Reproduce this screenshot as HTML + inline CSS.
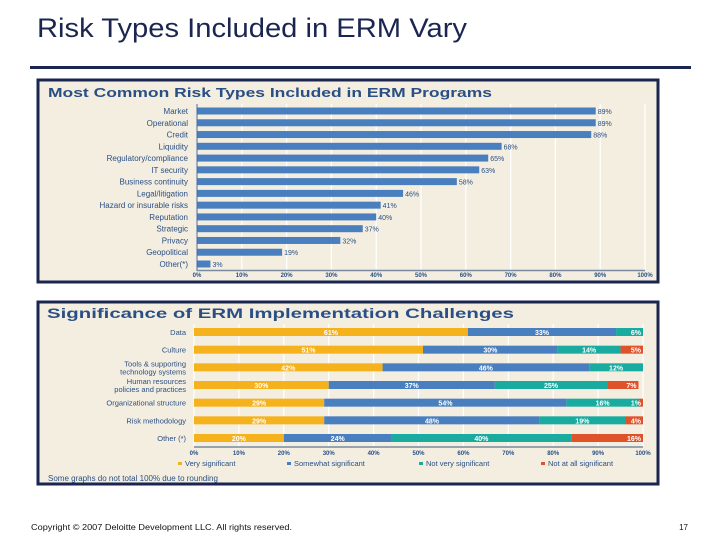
<!DOCTYPE html>
<html><head><meta charset="utf-8"><style>
html,body{margin:0;padding:0;background:#fff;}
svg{display:block;font-family:"Liberation Sans",sans-serif;}
</style></head><body>
<svg id="s" width="720" height="540" viewBox="0 0 720 540">
<text x="37" y="37" font-size="27" fill="#1a2550" textLength="430" lengthAdjust="spacingAndGlyphs">Risk Types Included in ERM Vary</text>
<rect x="30" y="66" width="661" height="3" fill="#1a2550"/>
<rect x="38" y="80" width="620" height="202" fill="#f3eee0" stroke="#1a2550" stroke-width="3"/>
<text x="48" y="97" font-size="12.5" font-weight="bold" fill="#2a4f86" textLength="444" lengthAdjust="spacingAndGlyphs">Most Common Risk Types Included in ERM Programs</text>
<g id="c1"></g>
<rect x="38" y="302" width="620" height="182" fill="#f3eee0" stroke="#1a2550" stroke-width="3"/>
<text x="47" y="318" font-size="13.5" font-weight="bold" fill="#2a4f86" textLength="467" lengthAdjust="spacingAndGlyphs">Significance of ERM Implementation Challenges</text>
<g id="c2"></g>
<text x="48" y="481" font-size="8" fill="#2a4f86">Some graphs do not total 100% due to rounding</text>
<text x="31" y="530" font-size="8" fill="#111" textLength="261" lengthAdjust="spacingAndGlyphs">Copyright © 2007 Deloitte Development LLC. All rights reserved.</text>
<text x="688" y="530" font-size="8" fill="#111" text-anchor="end">17</text>
</svg>
<script>
const riskCategories=["Market","Operational","Credit","Liquidity","Regulatory/compliance","IT security","Business continuity","Legal/litigation","Hazard or insurable risks","Reputation","Strategic","Privacy","Geopolitical","Other(*)"];
const riskValues=[89,89,88,68,65,63,58,46,41,40,37,32,19,3];
const pctTicks=[0,10,20,30,40,50,60,70,80,90,100];
const chCategories=[["Data"],["Culture"],["Tools & supporting","technology systems"],["Human resources","policies and practices"],["Organizational structure"],["Risk methodology"],["Other (*)"]];
const chSeriesNames=["Very significant","Somewhat significant","Not very significant","Not at all significant"];
const chVery=[61,51,42,30,29,29,20];
const chSomewhat=[33,30,46,37,54,48,24];
const chNotVery=[6,14,12,25,16,19,40];
const chNotAtAll=[0,5,0,7,1,4,16];
const NS="http://www.w3.org/2000/svg";
function mk(p,t,a,txt){const e=document.createElementNS(NS,t);for(const k in a)e.setAttribute(k,a[k]);if(txt!=null)e.textContent=txt;p.appendChild(e);return e;}
// chart 1
const g1=document.getElementById('c1');
const x1=v=>197+v*(645-197)/100;
const y1=i=>111+i*(264-111)/13;
pctTicks.forEach(t=>{
 const l=mk(g1,'line',{x1:x1(t),x2:x1(t),y1:104,y2:270,stroke:'#fff','stroke-width':1.2});
 
 
 const tx=mk(g1,'text',{x:x1(t),y:277,'font-size':6,'font-weight':'bold',fill:'#2a4f86','text-anchor':'middle'},t+'%');
 
 
});
riskCategories.forEach((c,i)=>{
 const lb=mk(g1,'text',{x:188,y:y1(i)+3,'font-size':8,fill:'#2a4f86','text-anchor':'end'},c);
 
 
 const b=mk(g1,'rect',{x:x1(0),y:y1(i)-3.5,width:x1(riskValues[i])-x1(0),height:7,fill:'#4a7fbf'});
 
 
 const v=mk(g1,'text',{x:x1(riskValues[i])+2,y:y1(i)+3,'font-size':7,fill:'#2a4f86'},riskValues[i]+'%');
 
 
});
mk(g1,'line',{x1:197,x2:197,y1:104,y2:271,stroke:'#4a6a9a','stroke-width':1});
mk(g1,'line',{x1:197,x2:645,y1:270.5,y2:270.5,stroke:'#7a8aa0','stroke-width':1.5});
// chart 2
const g2=document.getElementById('c2');
const x2=v=>194+v*(643-194)/100;
const y2=i=>332+i*(438-332)/6;
const cols=['#f5b21c','#4a7fbf','#1aaba0','#e0522a'];
const series=[chVery,chSomewhat,chNotVery,chNotAtAll];
pctTicks.forEach(t=>{
 const l=mk(g2,'line',{x1:x2(t),x2:x2(t),y1:324,y2:446,stroke:'#fff','stroke-width':1.2});
 
 
 const tx=mk(g2,'text',{x:x2(t),y:455,'font-size':6,'font-weight':'bold',fill:'#2a4f86','text-anchor':'middle'},t+'%');
 
 
});
chCategories.forEach((c,i)=>{
 c.forEach((line,j)=>{
  const lb=mk(g2,'text',{x:186,y:y2(i)+3-(c.length-1)*4+j*8,'font-size':7.5,fill:'#2a4f86','text-anchor':'end'},line);
  
  
 });
 let acc=0;
 series.forEach((s,k)=>{
  const v=s[i]; if(!v) return;
  const x=x2(acc), w=Math.min(x2(acc+v),x2(100))-x;
  const r=mk(g2,'rect',{x:x,y:y2(i)-4,width:w,height:8,fill:cols[k]});
  
  
  const t=mk(g2,'text',{x:k==3||v<8?x+w-2:x+w/2,y:y2(i)+3,'font-size':7,'font-weight':'bold',fill:'#fff','text-anchor':k==3||v<8?'end':'middle'},v+'%');
  
  
  acc+=v;
 });
});
mk(g2,'line',{x1:194,x2:643,y1:447,y2:447,stroke:'#7a8aa0','stroke-width':1.5});
const legX=[178,287,419,541];
chSeriesNames.forEach((n,k)=>{
 const m=mk(g2,'rect',{x:legX[k],y:462,width:4,height:3,fill:cols[k]});
 
 
 const t=mk(g2,'text',{x:legX[k]+7,y:466,'font-size':7.5,fill:'#2a4f86'},n);
 
 
});
</script>
</body></html>
